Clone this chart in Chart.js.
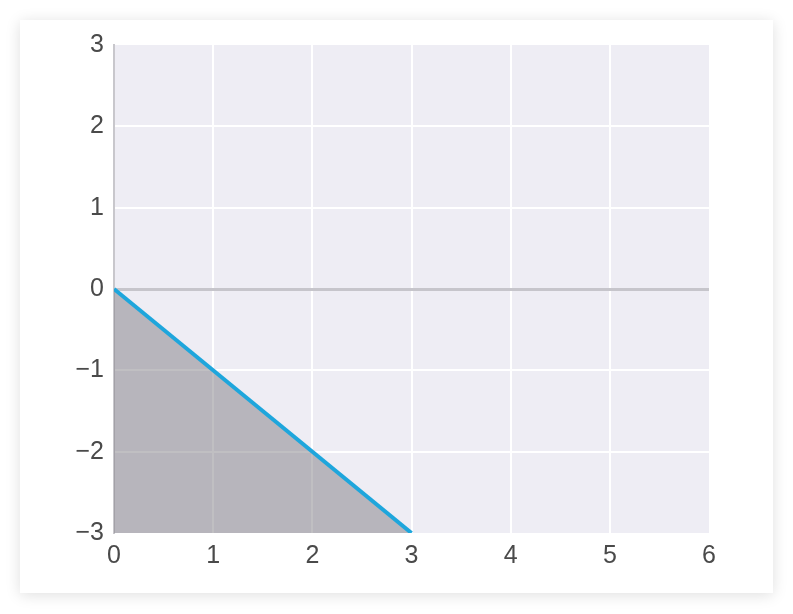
<!DOCTYPE html>
<html>
<head>
<meta charset="utf-8">
<script src="https://cdn.jsdelivr.net/npm/chart.js@4/dist/chart.umd.min.js"></script>
<style>
  html, body { margin: 0; padding: 0; background: #ffffff; }
  #card { position: absolute; left: 20px; top: 20px; width: 753px; height: 573px; background: #fff;
          box-shadow: 0 2px 14px rgba(0,0,0,0.13); }
  canvas { display: block; }
</style>
</head>
<body>
<div id="card"><canvas id="c" width="753" height="573"></canvas></div>
<script>
const xValues = [0, 3];
const yValues = [0, -3];
const xTicks = [0, 1, 2, 3, 4, 5, 6];
const yTicks = [-3, -2, -1, 0, 1, 2, 3];

const fmt = v => String(v).replace('-', '\u2212');

const bgPlugin = {
  id: 'plotBg',
  beforeDraw(chart) {
    const { ctx, chartArea: a } = chart;
    ctx.save();
    ctx.fillStyle = '#eeedf4';
    ctx.fillRect(a.left, a.top, a.right - a.left, a.bottom - a.top);
    ctx.restore();
  }
};

new Chart(document.getElementById('c'), {
  type: 'line',
  data: {
    datasets: [{
      data: xValues.map((x, i) => ({ x: x, y: yValues[i] })),
      borderColor: '#1ea6dc',
      borderWidth: 4,
      backgroundColor: 'rgba(121,120,125,0.47)',
      fill: 'start',
      pointRadius: 0,
      tension: 0
    }]
  },
  options: {
    responsive: false,
    animation: false,
    layout: { padding: { left: 0, top: 22, right: 64, bottom: 0 } },
    plugins: { legend: { display: false }, tooltip: { enabled: false } },
    scales: {
      x: {
        type: 'linear', min: 0, max: 6,
        afterBuildTicks: s => { s.ticks = xTicks.map(v => ({ value: v })); },
        afterFit: s => { s.height = 60; },
        border: { display: false },
        grid: {
          drawTicks: false,
          lineWidth: 2,
          color: ctx => (ctx.tick && (ctx.tick.value === 0 || ctx.tick.value === 6)) ? 'rgba(0,0,0,0)' : '#ffffff'
        },
        ticks: {
          padding: 8,
          color: '#4a4a4a',
          font: { family: 'Liberation Sans, Arial, sans-serif', size: 25 },
          callback: v => fmt(v)
        }
      },
      y: {
        type: 'linear', min: -3, max: 3,
        afterBuildTicks: s => { s.ticks = yTicks.map(v => ({ value: v })); },
        afterFit: s => { s.width = 94; },
        border: { display: true, color: '#c8c7cc', width: 2 },
        grid: {
          drawTicks: false,
          lineWidth: ctx => (ctx.tick && ctx.tick.value === 0) ? 3 : 2,
          color: ctx => {
            if (!ctx.tick) return '#ffffff';
            if (ctx.tick.value === 0) return '#c6c5cb';
            if (ctx.tick.value === 3 || ctx.tick.value === -3) return 'rgba(0,0,0,0)';
            return '#ffffff';
          }
        },
        ticks: {
          padding: 10,
          color: '#4a4a4a',
          font: { family: 'Liberation Sans, Arial, sans-serif', size: 25 },
          callback: v => fmt(v)
        }
      }
    }
  },
  plugins: [bgPlugin]
});
</script>
</body>
</html>
